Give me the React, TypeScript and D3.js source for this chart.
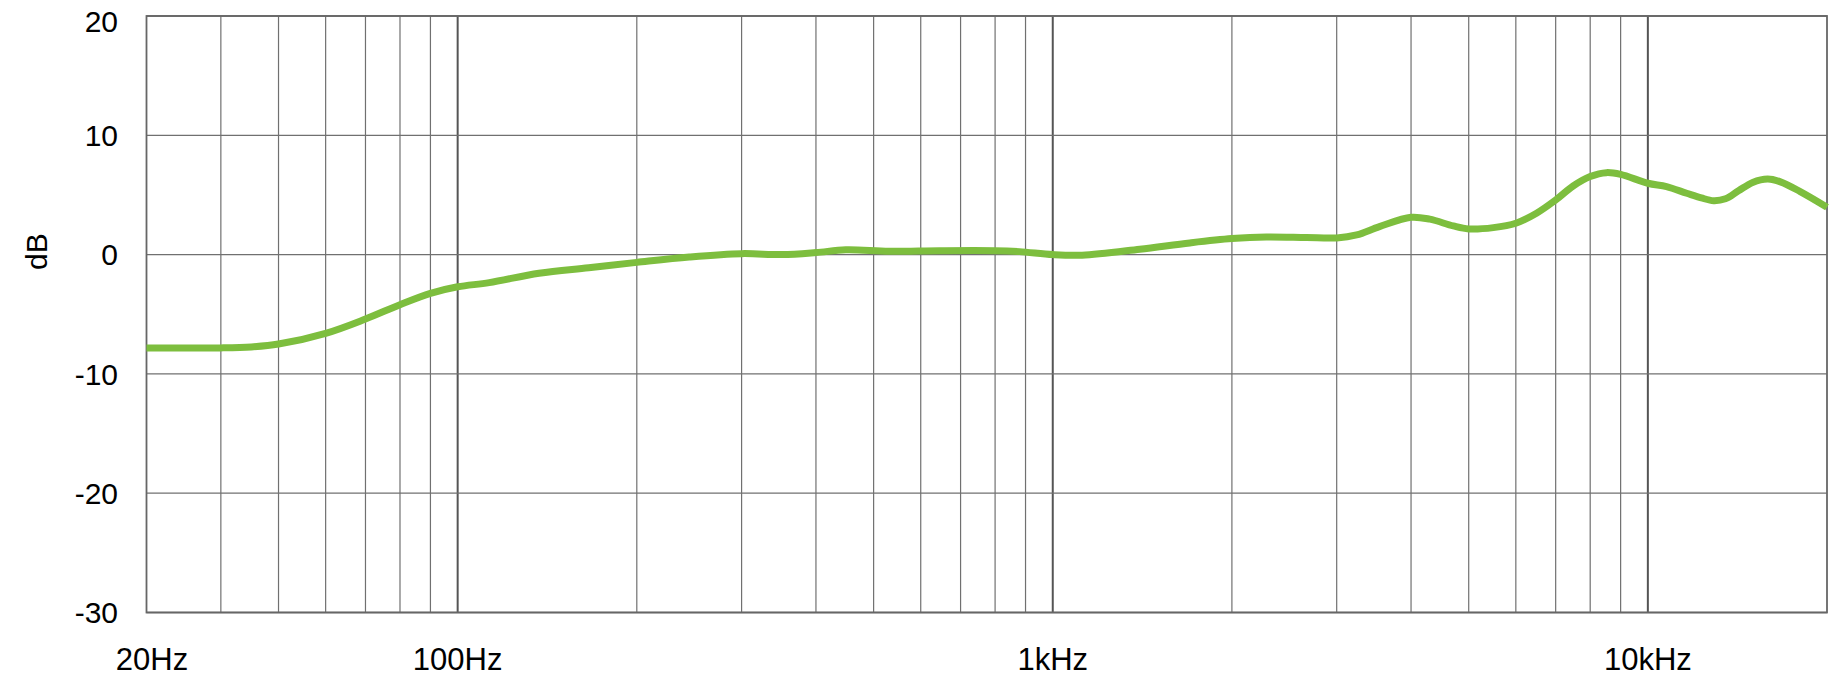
import React from "react";
import * as d3 from "d3";

// Frequency response, in Hz and dB
const freqs = [
  30, 40, 45, 50, 60, 70, 80, 90, 100, 113, 137, 166, 200, 245, 300, 351, 400,
  449, 531, 645, 800, 879, 1000, 1120, 1400, 1700, 2000, 2285, 2670, 3000, 3240,
  3540, 4000, 4300, 4710, 5000, 5500, 6000, 6500, 7000, 7490, 8000, 8520, 9000,
  10000, 10750, 11620, 12300, 12900, 13500, 14200, 15000, 15900, 16700, 18030,
  20000,
];
const levels = [
  -7.82, -7.82, -7.74, -7.5, -6.6, -5.4, -4.2, -3.25, -2.7, -2.35, -1.56, -1.1,
  -0.65, -0.2, 0.08, 0, 0.17, 0.4, 0.28, 0.33, 0.33, 0.25, 0, -0.05, 0.45, 0.98,
  1.34, 1.48, 1.43, 1.4, 1.65, 2.35, 3.13, 2.97, 2.4, 2.15, 2.26, 2.63, 3.47,
  4.58, 5.75, 6.54, 6.87, 6.72, 5.98, 5.7, 5.14, 4.75, 4.52, 4.68, 5.35, 6.05,
  6.33, 6.1, 5.28, 3.97,
];

// Axis ticks and labels
const dbTicks = [20, 10, 0, -10, -20, -30];
const freqLabelValues = [30, 100, 1000, 10000];
const freqLabelTexts = ["20Hz", "100Hz", "1kHz", "10kHz"];
const gridFreqs = [
  40, 50, 60, 70, 80, 90, 100, 200, 300, 400, 500, 600, 700, 800, 900, 1000,
  2000, 3000, 4000, 5000, 6000, 7000, 8000, 9000, 10000,
];
const decadeFreqs = [100, 1000, 10000];

const W = 1834;
const H = 679;
const left = 146.5;
const right = 1827;
const top = 16;
const bottom = 612.5;

const FONT = "'Helvetica Neue', Helvetica, Arial, 'Liberation Sans', sans-serif";

export default function App() {
  const x = d3.scaleLog().domain([30, 20000]).range([left, right]);
  const y = d3.scaleLinear().domain([-30, 20]).range([bottom, top]);

  const pts: [number, number][] = freqs.map((f, i) => [f, levels[i]]);
  const line = d3
    .line<[number, number]>()
    .x((d) => x(d[0]))
    .y((d) => y(d[1]))
    .curve(d3.curveCatmullRom.alpha(0.5));

  return (
    <svg
      width={W}
      height={H}
      style={{ position: "absolute", left: 0, top: 0, background: "#fff" }}
      fontFamily={FONT}
    >
      {/* vertical grid */}
      {gridFreqs.map((f) => {
        const major = decadeFreqs.includes(f);
        return (
          <line
            key={"v" + f}
            x1={x(f)}
            x2={x(f)}
            y1={top}
            y2={bottom}
            stroke={major ? "#555" : "#707070"}
            strokeWidth={major ? 2 : 1.2}
          />
        );
      })}
      {/* horizontal grid */}
      {dbTicks.map((v) => (
        <line
          key={"h" + v}
          x1={left}
          x2={right}
          y1={y(v)}
          y2={y(v)}
          stroke="#707070"
          strokeWidth={1.3}
        />
      ))}
      {/* frame */}
      <rect
        x={left}
        y={top}
        width={right - left}
        height={bottom - top}
        fill="none"
        stroke="#666"
        strokeWidth={1.8}
      />

      {/* response curve */}
      <path
        d={line(pts) || ""}
        fill="none"
        stroke="#7dbe3e"
        strokeWidth={7}
        strokeLinejoin="round"
        strokeLinecap="butt"
      />

      {/* dB labels */}
      {dbTicks.map((v) => (
        <text
          key={"t" + v}
          x={118}
          y={Math.max(y(v) + 10.7, 32)}
          textAnchor="end"
          fontSize={30}
          fill="#000"
        >
          {v}
        </text>
      ))}
      <text
        transform={`translate(46.5, 251.7) rotate(-90)`}
        textAnchor="middle"
        fontSize={30}
        fill="#000"
      >
        dB
      </text>

      {/* frequency labels */}
      {freqLabelValues.map((f, i) => (
        <text
          key={"f" + f}
          x={x(f) + (i === 0 ? 5.5 : 0)}
          y={669.5}
          textAnchor="middle"
          fontSize={31}
          fill="#000"
        >
          {freqLabelTexts[i]}
        </text>
      ))}
    </svg>
  );
}
